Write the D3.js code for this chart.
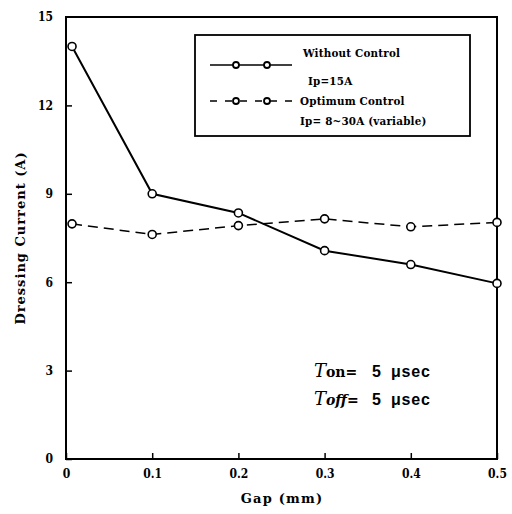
<!DOCTYPE html>
<html><head><meta charset="utf-8">
<script src="https://cdn.jsdelivr.net/npm/d3@7"></script>
<style>html,body{margin:0;padding:0;background:#fff;}svg{display:block;}</style>
</head><body>
<script>
const gaps = [0.007, 0.1, 0.2, 0.3, 0.4, 0.5];
const withoutControl = [14.0, 9.0, 8.35, 7.07, 6.6, 5.96];
const optimumControl = [7.98, 7.62, 7.92, 8.15, 7.88, 8.03];
const xTicks = [0, 0.1, 0.2, 0.3, 0.4, 0.5];
const xTickLabels = ["0", "0.1", "0.2", "0.3", "0.4", "0.5"];
const yTicks = [0, 3, 6, 9, 12, 15];
const legendLabels = [["Without Control", "Ip=15A"], ["Optimum Control", "Ip= 8~30A (variable)"]];

const W = 512, H = 514;
const svg = d3.select("body").append("svg").attr("width", W).attr("height", H);
const x = d3.scaleLinear().domain([0, 0.5]).range([66, 497]);
const y = d3.scaleLinear().domain([0, 15]).range([459, 17]);
const FONT = "'DejaVu Serif', serif";

// frame
svg.append("rect").attr("x", x(0)).attr("y", y(15)).attr("width", x(0.5) - x(0)).attr("height", y(0) - y(15))
  .attr("fill", "none").attr("stroke", "#000").attr("stroke-width", 2);

// x axis
const xAxis = d3.axisBottom(x).tickValues(xTicks).tickSize(-6).tickPadding(10)
  .tickFormat((d, i) => xTickLabels[i]);
const gx = svg.append("g").attr("transform", `translate(0,${y(0)})`).call(xAxis);
gx.select(".domain").remove();
gx.selectAll("line").attr("stroke-width", 1.5);
gx.selectAll("text").attr("font-family", FONT).attr("font-weight", "bold").attr("font-size", 12)
  .attr("font-stretch", "condensed");

// y axis
const yAxis = d3.axisLeft(y).tickValues(yTicks).tickSize(-6).tickPadding(13);
const gy = svg.append("g").attr("transform", `translate(${x(0)},0)`).call(yAxis);
gy.select(".domain").remove();
gy.selectAll("line").attr("stroke-width", 1.5);
gy.selectAll(".tick").filter(d => d === 15).select("line").remove();
gy.selectAll("text").attr("font-family", FONT).attr("font-weight", "bold").attr("font-size", 12)
  .attr("font-stretch", "condensed");

// axis titles
svg.append("text").attr("x", 282).attr("y", 503).attr("text-anchor", "middle")
  .attr("font-family", FONT).attr("font-weight", "bold").attr("font-size", 13).attr("letter-spacing", 1.2)
  .text("Gap (mm)");
svg.append("text").attr("transform", "translate(25,238) rotate(-90)").attr("text-anchor", "middle")
  .attr("font-family", FONT).attr("font-weight", "bold").attr("font-size", 13).attr("letter-spacing", 1)
  .text("Dressing Current (A)");

// lines
const line = d3.line().x(d => x(d[0])).y(d => y(d[1]));
const s1 = gaps.map((g, i) => [g, withoutControl[i]]);
const s2 = gaps.map((g, i) => [g, optimumControl[i]]);
svg.append("path").datum(s1).attr("d", line).attr("fill", "none").attr("stroke", "#000").attr("stroke-width", 2);
svg.append("path").datum(s2).attr("d", line).attr("fill", "none").attr("stroke", "#000").attr("stroke-width", 1.5)
  .attr("stroke-dasharray", "10,6");
[s1, s2].forEach(s => {
  svg.append("g").selectAll("circle").data(s).join("circle")
    .attr("cx", d => x(d[0])).attr("cy", d => y(d[1])).attr("r", 4)
    .attr("fill", "#fff").attr("stroke", "#000").attr("stroke-width", 1.6);
});

// legend
const lg = svg.append("g");
lg.append("rect").attr("x", 195).attr("y", 35).attr("width", 275).attr("height", 101)
  .attr("fill", "#fff").attr("stroke", "#000").attr("stroke-width", 1.8);
const legY = [65, 101];
legY.forEach((ly, i) => {
  lg.append("line").attr("x1", 210).attr("x2", 292).attr("y1", ly).attr("y2", ly)
    .attr("stroke", "#000").attr("stroke-width", 1.6).attr("stroke-dasharray", i === 0 ? null : "7,8");
  [236, 267].forEach(cx => lg.append("circle").attr("cx", cx).attr("cy", ly).attr("r", 3)
    .attr("fill", "#fff").attr("stroke", "#000").attr("stroke-width", 1.8));
});
const legText = [[303, 57, legendLabels[0][0]], [308, 85, legendLabels[0][1]], [300, 105, legendLabels[1][0]], [300, 125, legendLabels[1][1]]];
legText.forEach(t => lg.append("text").attr("x", t[0]).attr("y", t[1])
  .attr("font-family", FONT).attr("font-weight", "bold").attr("font-size", 11.5).attr("font-stretch", "condensed")
  .attr("letter-spacing", 0.2)
  .text(t[2]));

// annotation
const ann = [[377, "on= "], [405, "off= "]];
ann.forEach(a => {
  const t = svg.append("text").attr("x", 314).attr("y", a[0]);
  t.append("tspan").attr("font-family", FONT).attr("font-style", "italic").attr("font-size", 18).text("T");
  t.append("tspan").attr("font-family", FONT).attr("font-weight", "bold").attr("font-size", 14)
    .attr("font-style", a[1] === "off= " ? "italic" : "normal").text(a[1]);
  t.append("tspan").attr("font-family", "'Liberation Sans', Arial, sans-serif").attr("font-weight", "bold")
    .attr("font-size", 16).attr("x", 372).text("5");
  t.append("tspan").attr("font-family", "'Liberation Sans', Arial, sans-serif").attr("font-weight", "bold")
    .attr("font-size", 16).attr("letter-spacing", 0.8).attr("x", 391).text("μsec");
});
</script>
</body></html>
